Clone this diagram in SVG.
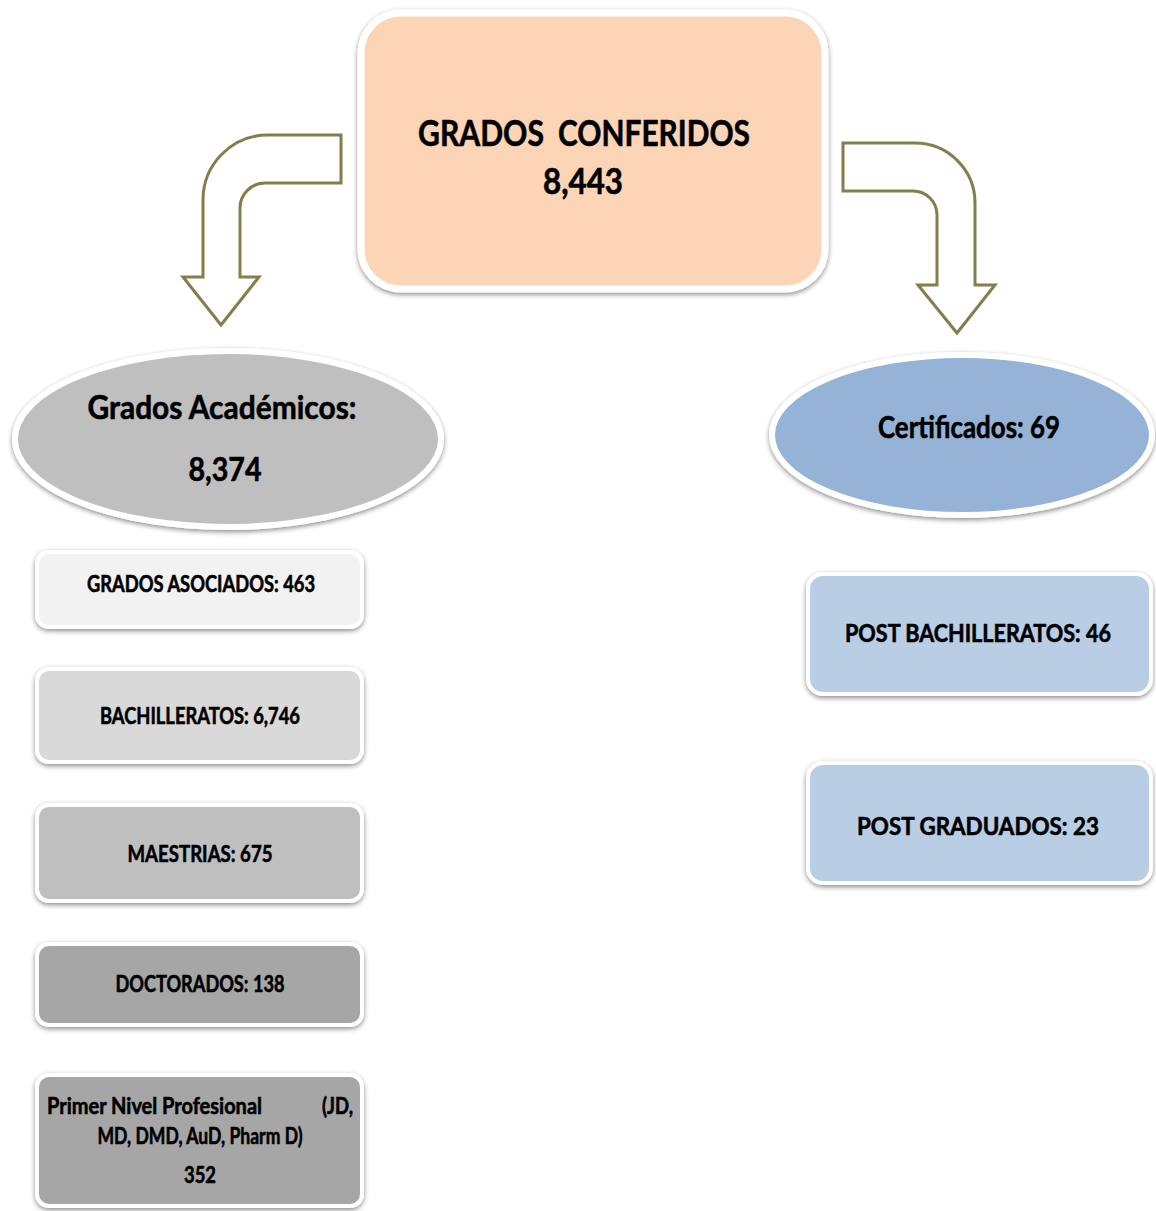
<svg xmlns="http://www.w3.org/2000/svg" width="1156" height="1211" viewBox="0 0 1156 1211">
  <defs>
    <filter id="sh" x="-10%" y="-10%" width="120%" height="130%">
      <feDropShadow dx="0" dy="2" stdDeviation="2.5" flood-color="#000" flood-opacity="0.45"/>
    </filter>
    <style>
      .t { font-family: "Lato", "Open Sans", "Liberation Sans", sans-serif; font-weight: 700; fill: #000; stroke: #000; stroke-width: 0.6; }
      .box { stroke: #fff; stroke-width: 4; filter: url(#sh); }
      .arrow { fill: #fff; stroke: #867C4C; stroke-width: 3; stroke-linejoin: miter; }
    </style>
  </defs>
  <rect width="1156" height="1211" fill="#fff"/>

  <g id="connectors">
    <path class="arrow" d="M341,135 L268,135 A65,65 0 0 0 203,200 L203,277 L183,277 L221,325 L259,277 L240,277 L240,208 A25,25 0 0 1 265,183 L341,183 Z"/>
    <path class="arrow" d="M843,143 L915,143 A60,60 0 0 1 975,203 L975,285 L995,285 L957,333 L918,285 L937,285 L937,215 A24,24 0 0 0 913,191 L843,191 Z"/>
  </g>

  <g id="grados-conferidos">
    <rect class="box" x="361" y="13" width="464" height="276" rx="40" fill="#FBD5B5" style="stroke-width:7"/>
    <text class="t" font-size="36"><tspan x="418" y="146" textLength="126" lengthAdjust="spacingAndGlyphs">GRADOS</tspan><tspan x="558" y="146" textLength="192" lengthAdjust="spacingAndGlyphs">CONFERIDOS</tspan></text>
    <text class="t" x="583" y="194" font-size="36" text-anchor="middle" textLength="80" lengthAdjust="spacingAndGlyphs">8,443</text>
  </g>

  <g id="grados-academicos">
    <ellipse class="box" cx="228" cy="439" rx="213" ry="88" fill="#BFBFBF" style="stroke-width:6"/>
    <text class="t" x="222" y="419" font-size="33" text-anchor="middle" textLength="269" lengthAdjust="spacingAndGlyphs">Grados Académicos:</text>
    <text class="t" x="225" y="481" font-size="33" text-anchor="middle" textLength="73" lengthAdjust="spacingAndGlyphs">8,374</text>
  </g>

  <g id="certificados">
    <ellipse class="box" cx="962" cy="435" rx="190" ry="80" fill="#95B3D7" style="stroke-width:6"/>
    <text class="t" x="969" y="438" font-size="31" text-anchor="middle" textLength="182" lengthAdjust="spacingAndGlyphs">Certificados: 69</text>
  </g>

  <g id="grados-asociados">
    <rect class="box" x="37" y="552" width="325" height="75" rx="12" fill="#F2F2F2"/>
    <text class="t" x="201" y="592" font-size="23" text-anchor="middle" textLength="228" lengthAdjust="spacingAndGlyphs">GRADOS ASOCIADOS: 463</text>
  </g>

  <g id="bachilleratos">
    <rect class="box" x="37" y="669" width="325" height="93" rx="12" fill="#D9D9D9"/>
    <text class="t" x="200" y="724" font-size="23" text-anchor="middle" textLength="200" lengthAdjust="spacingAndGlyphs">BACHILLERATOS: 6,746</text>
  </g>

  <g id="maestrias">
    <rect class="box" x="37" y="805" width="325" height="96" rx="12" fill="#BFBFBF"/>
    <text class="t" x="200" y="862" font-size="23" text-anchor="middle" textLength="145" lengthAdjust="spacingAndGlyphs">MAESTRIAS: 675</text>
  </g>

  <g id="doctorados">
    <rect class="box" x="37" y="944" width="325" height="81" rx="12" fill="#A6A6A6"/>
    <text class="t" x="200" y="992" font-size="23" text-anchor="middle" textLength="169" lengthAdjust="spacingAndGlyphs">DOCTORADOS: 138</text>
  </g>

  <g id="primer-nivel">
    <rect class="box" x="37" y="1075" width="325" height="131" rx="12" fill="#A6A6A6"/>
    <text class="t" font-size="23"><tspan x="47" y="1114" textLength="215" lengthAdjust="spacingAndGlyphs">Primer Nivel Profesional</tspan><tspan x="322" y="1114" textLength="31" lengthAdjust="spacingAndGlyphs">(JD,</tspan></text>
    <text class="t" x="200" y="1144" font-size="23" text-anchor="middle" textLength="205" lengthAdjust="spacingAndGlyphs">MD, DMD, AuD, Pharm D)</text>
    <text class="t" x="200" y="1183" font-size="23" text-anchor="middle" textLength="32" lengthAdjust="spacingAndGlyphs">352</text>
  </g>

  <g id="post-bachilleratos">
    <rect class="box" x="808" y="574" width="343" height="120" rx="15" fill="#B9CDE5"/>
    <text class="t" x="978" y="642" font-size="24" text-anchor="middle" textLength="266" lengthAdjust="spacingAndGlyphs">POST BACHILLERATOS: 46</text>
  </g>

  <g id="post-graduados">
    <rect class="box" x="808" y="763" width="343" height="120" rx="15" fill="#B9CDE5"/>
    <text class="t" x="978" y="835" font-size="24" text-anchor="middle" textLength="242" lengthAdjust="spacingAndGlyphs">POST GRADUADOS: 23</text>
  </g>
</svg>
